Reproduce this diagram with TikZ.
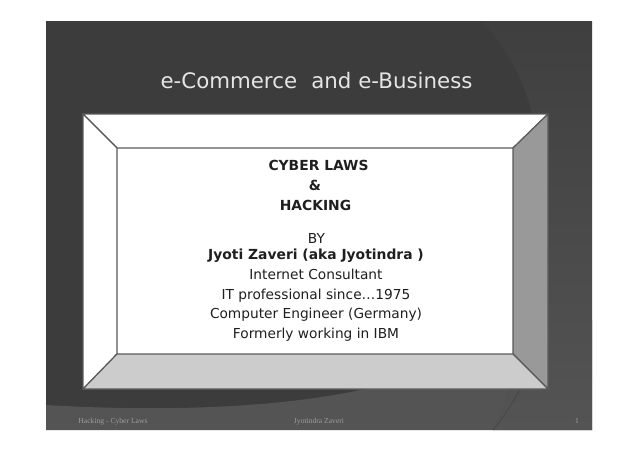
\documentclass[tikz,border=0pt]{standalone}
\usepackage{fontspec}
\setmainfont{DejaVu Sans}
\newfontfamily\footfont{Liberation Serif}
\definecolor{slidedark}{HTML}{3C3C3C}
\definecolor{righttop}{HTML}{3F3F3F}
\definecolor{rightbottom}{HTML}{545454}
\definecolor{slideband}{HTML}{545454}
\definecolor{arcline}{HTML}{474747}
\definecolor{frameline}{HTML}{5A5A5A}
\tikzset{
  bevel/.style={draw=frameline,line width=0.9pt,line join=round},
  titletext/.style={text=white!90!black,font=\fontsize{16}{18}\selectfont,inner sep=0pt,anchor=base},
  bodytext/.style={text=black!88,font=\fontsize{10.3}{12}\selectfont,inner sep=0pt,anchor=base},
  bodybold/.style={bodytext,font=\fontsize{10.4}{12}\selectfont\bfseries},
  foottext/.style={text=white!62!black,font=\footfont\fontsize{5.7}{7}\selectfont,inner sep=0pt,anchor=base}
}
\begin{document}
\begin{tikzpicture}[x=0.75pt,y=-0.75pt]
\useasboundingbox (0,0) rectangle (638,451);
\fill[white] (0,0) rectangle (638,451);
% slide background
\fill[slidedark] (46,21) rectangle (592,430);
% bottom band
\fill[slideband] (46,405) .. controls (130,410) and (260,412) .. (365,389)
  .. controls (430,375) and (520,350) .. (592,320) -- (592,430) -- (46,430) -- cycle;
% right region behind the arc
\shade[top color=righttop,bottom color=rightbottom] (482,21) .. controls (512,55) and (528,90) .. (533,120)
  .. controls (538,200) and (535,340) .. (493,430) -- (592,430) -- (592,21) -- cycle;
\draw[arcline,line width=0.6pt] (522,385) .. controls (515,400) and (505,415) .. (493,430);
% frame
\coordinate (ol) at (83,114); \coordinate (or) at (548,114);
\coordinate (ur) at (548,389); \coordinate (ul) at (83,389);
\coordinate (il) at (117,148); \coordinate (ir) at (513,148);
\coordinate (jr) at (513,354); \coordinate (jl) at (117,354);
\fill[white] (il) rectangle (jr);
\draw[bevel,fill=white] (ol) -- (or) -- (ir) -- (il) -- cycle;
\draw[bevel,fill=white] (ol) -- (il) -- (jl) -- (ul) -- cycle;
\draw[bevel,fill=black!40] (or) -- (ur) -- (jr) -- (ir) -- cycle;
\draw[bevel,fill=black!20] (ul) -- (jl) -- (jr) -- (ur) -- cycle;
% texts
\node[titletext] (title) at (316.5,88) {e-Commerce\hspace{0.35em} and e-Business};
\node[bodybold] (t1) at (318.5,170) {CYBER LAWS};
\node[bodybold] (t2) at (315,190) {\&};
\node[bodybold] (t3) at (315.5,210) {HACKING};
\node[bodytext] (t4) at (316.5,243) {BY};
\node[bodybold] (t5) at (316,259) {Jyoti Zaveri (aka Jyotindra )};
\node[bodytext] (t6) at (316,279) {Internet Consultant};
\node[bodytext] (t7) at (316,299) {IT professional since…1975};
\node[bodytext] (t8) at (316,318) {Computer Engineer (Germany)};
\node[bodytext] (t9) at (316,338) {Formerly working in IBM};
\node[foottext] (f1) at (113,423) {Hacking - Cyber Laws};
\node[foottext] (f2) at (319,423) {Jyotindra Zaveri};
\node[foottext] (f3) at (577,423) {1};
\end{tikzpicture}
\end{document}
